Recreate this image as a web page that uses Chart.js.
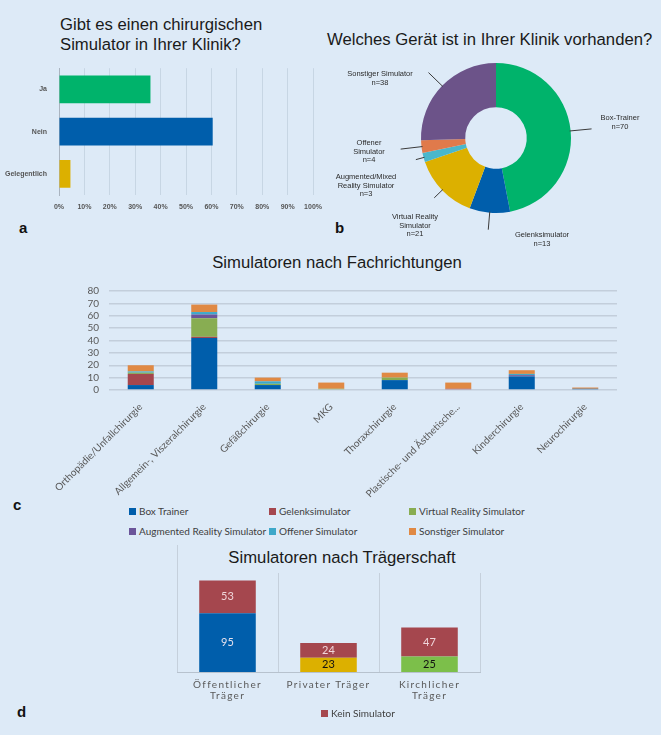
<!DOCTYPE html>
<html lang="de">
<head>
<meta charset="utf-8">
<title>Simulatoren in chirurgischen Kliniken</title>
<script src="https://cdn.jsdelivr.net/npm/chart.js@4.4.1/dist/chart.umd.min.js"></script>
<style>
  html, body { margin: 0; padding: 0; }
  body {
    width: 661px; height: 735px; position: relative; overflow: hidden;
    background: #ddeaf7;
    font-family: "Liberation Sans", Arial, sans-serif;
  }
  canvas { position: absolute; }
  .title { position: absolute; color: #1a1a1a; font-size: 16.7px; line-height: 20px; white-space: nowrap; }
  .tag { position: absolute; font-weight: bold; font-size: 15px; line-height: 16px; color: #111; }
  .legend { position: absolute; font-family: Lato, "Liberation Sans", sans-serif; font-size: 10px; color: #404040; }
  .legend .item { display: flex; align-items: center; height: 20px; white-space: nowrap; }
  .legend .sw { width: 7px; height: 7px; margin-right: 3px; flex: none; }
</style>
</head>
<body>

<div class="title" style="left:60px; top:15px;">Gibt es einen chirurgischen<br>Simulator in Ihrer Klinik?</div>
<div class="title" style="left:327px; top:30px; width:316px; text-align:center;">Welches Gerät ist in Ihrer Klinik vorhanden?</div>
<div class="title" style="left:137px; top:253px; width:400px; text-align:center;">Simulatoren nach Fachrichtungen</div>
<div class="title" style="left:142px; top:548px; width:400px; text-align:center;">Simulatoren nach Trägerschaft</div>

<div class="tag" style="left:19px; top:220px;">a</div>
<div class="tag" style="left:335px; top:220px;">b</div>
<div class="tag" style="left:13px; top:497px;">c</div>
<div class="tag" style="left:17px; top:704px;">d</div>

<canvas id="chartA" width="330" height="160" style="left:0; top:60px;"></canvas>
<canvas id="chartB" width="331" height="200" style="left:330px; top:50px;"></canvas>
<canvas id="chartC" width="661" height="225" style="left:0; top:275px;"></canvas>
<div class="legend" id="legendC" style="left:129px; top:501px;"></div>
<canvas id="chartD" width="414" height="172" style="left:150px; top:540px;"></canvas>
<div class="legend" id="legendD" style="left:321px; top:703px;"></div>

<script>
  'use strict';

  // ---- a) Gibt es einen chirurgischen Simulator? (Prozent)
  const antwortLabels = ['Ja', 'Nein', 'Gelegentlich'];
  const antwortProzent = [36, 60.5, 4.5];

  // ---- b) Welches Gerät ist vorhanden? (Anzahl)
  const geraetNamen = ['Box-Trainer', 'Gelenksimulator', 'Virtual Reality\nSimulator',
    'Augmented/Mixed\nReality Simulator', 'Offener\nSimulator', 'Sonstiger Simulator'];
  const geraetAnzahl = [70, 13, 21, 3, 4, 38];

  // ---- c) Simulatoren nach Fachrichtungen
  const fachrichtungen = ['Orthopädie/Unfallchirurgie', 'Allgemein-, Viszeralchirurgie', 'Gefäßchirurgie', 'MKG',
    'Thoraxchirurgie', 'Plastische- und Ästhetische...', 'Kinderchirurgie', 'Neurochirurgie'];
  const boxTrainer      = [4, 42, 4, 0, 8, 0, 11, 1];
  const gelenksimulator = [9, 1, 0, 0, 0, 1, 0, 0];
  const vrSimulator     = [1, 15, 1, 1, 2, 0, 0, 0];
  const arSimulator     = [0, 3, 0, 0, 0, 0, 1, 0];
  const offenerSim      = [1, 2, 2, 0, 0, 0, 1, 0];
  const sonstigerSim    = [5, 6, 3, 5, 4, 5, 3, 1];
  const fachTicks = [0, 10, 20, 30, 40, 50, 60, 70, 80];

  // ---- d) Simulatoren nach Trägerschaft
  const traeger = [['Öffentlicher', 'Träger'], 'Privater Träger', ['Kirchlicher', 'Träger']];
  const mitSimulator = [95, 23, 25];
  const keinSimulator = [53, 24, 47];

  // Farben
  const C = {
    green: '#00b36b', blue: '#005eab', yellow: '#dcb000', cyan: '#4ab7cb', orange: '#e07a4b', purple: '#6c5389',
    xBlue: '#005eab', xRed: '#a5474e', xGreen: '#88ad52', xPurple: '#6b559a', xCyan: '#3ea8c9', xOrange: '#e08944',
    dGreen: '#7cbf4a'
  };

  Chart.defaults.animation = false;
  Chart.defaults.responsive = false;
  Chart.defaults.plugins.tooltip.enabled = false;
  Chart.defaults.plugins.legend.display = false;

  const $ = (id) => document.getElementById(id);

  // ===== a
  new Chart($('chartA'), {
    type: 'bar',
    data: {
      labels: antwortLabels,
      datasets: [{
        data: antwortProzent,
        backgroundColor: [C.green, C.blue, C.yellow],
        barPercentage: 0.66,
        categoryPercentage: 1
      }]
    },
    options: {
      indexAxis: 'y',
      layout: { padding: { top: 7, right: 11, left: 0, bottom: 0 } },
      scales: {
        x: {
          min: 0, max: 100,
          ticks: { stepSize: 10, padding: 8, color: '#555', font: { size: 7, weight: 'bold' }, callback: (v) => v + '%' },
          grid: { color: 'rgba(180,196,214,0.55)', drawTicks: false },
          border: { display: false },
          afterFit: (s) => { s.height = 25; }
        },
        y: {
          ticks: { padding: 4, color: '#555', font: { size: 7, weight: 'bold' } },
          grid: { display: false },
          border: { display: true, color: '#aab4c0', width: 1 },
          afterFit: (s) => { s.width = 59; }
        }
      }
    }
  });

  // ===== b
  const labelPos = [[124, -20], [46, 97], [-81, 79], [-130, 39], [-127, 5], [-116, -64]];
  const lineLen = [21, 17, 11, 8, 21, 19];

  const donutLabels = {
    id: 'donutLabels',
    afterDatasetsDraw(chart) {
      const { ctx } = chart;
      const meta = chart.getDatasetMeta(0);
      ctx.save();
      ctx.font = '7.5px "Liberation Sans", Arial, sans-serif';
      ctx.fillStyle = '#2b2b2b';
      ctx.strokeStyle = '#3a3a3a';
      ctx.lineWidth = 1;
      ctx.textAlign = 'center';
      ctx.textBaseline = 'middle';
      meta.data.forEach((arc, i) => {
        const p = arc.getProps(['x', 'y', 'startAngle', 'endAngle', 'outerRadius'], true);
        const mid = (p.startAngle + p.endAngle) / 2;
        const cs = Math.cos(mid), sn = Math.sin(mid);
        ctx.beginPath();
        ctx.moveTo(p.x + cs * (p.outerRadius - 1), p.y + sn * (p.outerRadius - 1));
        ctx.lineTo(p.x + cs * (p.outerRadius + lineLen[i]), p.y + sn * (p.outerRadius + lineLen[i]));
        ctx.stroke();
        const lines = geraetNamen[i].split('\n').concat('n=' + geraetAnzahl[i]);
        lines.forEach((t, k) => ctx.fillText(t, p.x + labelPos[i][0], p.y + labelPos[i][1] + k * 8.5));
      });
      ctx.restore();
    }
  };

  new Chart($('chartB'), {
    type: 'doughnut',
    data: {
      labels: geraetNamen,
      datasets: [{
        data: geraetAnzahl,
        backgroundColor: [C.green, C.blue, C.yellow, C.cyan, C.orange, C.purple],
        borderWidth: 0
      }]
    },
    options: {
      cutout: '41%',
      layout: { padding: { top: 13, bottom: 37, left: 91, right: 90 } }
    },
    plugins: [donutLabels]
  });

  // ===== c
  const serienC = [
    { label: 'Box Trainer', data: boxTrainer, color: C.xBlue },
    { label: 'Gelenksimulator', data: gelenksimulator, color: C.xRed },
    { label: 'Virtual Reality Simulator', data: vrSimulator, color: C.xGreen },
    { label: 'Augmented Reality Simulator', data: arSimulator, color: C.xPurple },
    { label: 'Offener Simulator', data: offenerSim, color: C.xCyan },
    { label: 'Sonstiger Simulator', data: sonstigerSim, color: C.xOrange }
  ];

  const chartC = new Chart($('chartC'), {
    type: 'bar',
    data: {
      labels: fachrichtungen,
      datasets: serienC.map((s) => ({
        label: s.label, data: s.data, backgroundColor: s.color,
        barPercentage: 0.41, categoryPercentage: 1
      }))
    },
    options: {
      layout: { padding: { top: 12, right: 44, left: 0, bottom: 0 } },
      scales: {
        x: {
          stacked: true,
          ticks: { minRotation: 45, maxRotation: 45, padding: 3, color: '#595959', font: { family: 'Lato', size: 10 } },
          grid: { display: false },
          border: { display: false },
          afterFit: (s) => { s.height = 110; }
        },
        y: {
          stacked: true, min: 0, max: 80,
          afterBuildTicks: (s) => { s.ticks = fachTicks.map((v) => ({ value: v })); },
          ticks: { autoSkip: false, padding: 10, color: '#595959', font: { family: 'Lato', size: 10 } },
          grid: { color: '#c3cedb', lineWidth: 1.5, drawTicks: false },
          border: { display: false },
          afterFit: (s) => { s.width = 109; }
        }
      }
    }
  });

  function htmlLegend(el, chart, cols, colWidth, filter) {
    el.style.display = 'grid';
    el.style.gridTemplateColumns = `repeat(${cols}, ${colWidth}px)`;
    chart.data.datasets.forEach((ds, i) => {
      if (filter && !filter(ds, i)) return;
      const item = document.createElement('div');
      item.className = 'item';
      const sw = document.createElement('span');
      sw.className = 'sw';
      sw.style.background = Array.isArray(ds.backgroundColor) ? ds.backgroundColor[0] : ds.backgroundColor;
      item.appendChild(sw);
      item.appendChild(document.createTextNode(ds.label));
      el.appendChild(item);
    });
  }
  htmlLegend($('legendC'), chartC, 3, 140);

  // ===== d
  const barValues = {
    id: 'barValues',
    beforeDraw(chart) { chart.ctx.letterSpacing = '1.3px'; },
    beforeDatasetsDraw(chart) { chart.ctx.letterSpacing = '0px'; },
    afterDatasetsDraw(chart) {
      const { ctx, chartArea } = chart;
      ctx.save();
      ctx.font = '11px Lato, "Liberation Sans", sans-serif';
      ctx.textAlign = 'center';
      ctx.textBaseline = 'middle';
      chart.data.datasets.forEach((ds, di) => {
        chart.getDatasetMeta(di).data.forEach((bar, i) => {
          const { x, y, base } = bar.getProps(['x', 'y', 'base'], true);
          ctx.fillStyle = ds.labelColor[i];
          ctx.fillText(String(ds.data[i]), x, (y + base) / 2);
        });
      });
      // linke Rahmenlinie reicht bis unter den Titel
      ctx.strokeStyle = '#c5d0dc';
      ctx.lineWidth = 1;
      ctx.beginPath();
      ctx.moveTo(chartArea.left + 0.5, chartArea.top - 28);
      ctx.lineTo(chartArea.left + 0.5, chartArea.top);
      ctx.stroke();
      ctx.restore();
    }
  };

  const chartD = new Chart($('chartD'), {
    type: 'bar',
    data: {
      labels: traeger,
      datasets: [
        {
          label: 'Simulator', data: mitSimulator,
          backgroundColor: [C.blue, C.yellow, C.dGreen],
          labelColor: ['#e6e2ee', '#111', '#111'],
          barPercentage: 0.56, categoryPercentage: 1
        },
        {
          label: 'Kein Simulator', data: keinSimulator,
          backgroundColor: C.xRed,
          labelColor: ['#f0d6da', '#f0d6da', '#f0d6da'],
          barPercentage: 0.56, categoryPercentage: 1
        }
      ]
    },
    options: {
      layout: { padding: { top: 33, right: 84, left: 27, bottom: 0 } },
      scales: {
        x: {
          stacked: true,
          ticks: { padding: 7, color: '#595959', font: { family: 'Lato', size: 10, lineHeight: 1.1 } },
          grid: { color: '#c5d0dc', drawTicks: false, offset: true },
          border: { display: true, color: '#b7c2ce' },
          afterFit: (s) => { s.height = 40; }
        },
        y: { stacked: true, display: false, min: 0, max: 160 }
      }
    },
    plugins: [barValues]
  });

  htmlLegend($('legendD'), chartD, 1, 120, (ds) => ds.label === 'Kein Simulator');
</script>
</body>
</html>
